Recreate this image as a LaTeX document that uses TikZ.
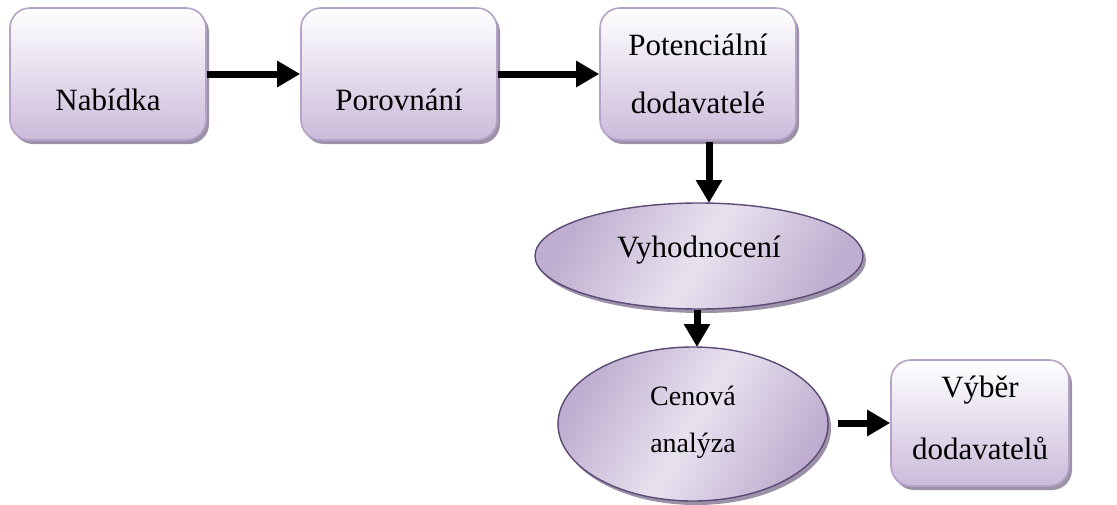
\documentclass[tikz,border=0pt]{standalone}
\usepackage{fontspec}
\setmainfont{Liberation Serif}
\usetikzlibrary{shadows,arrows.meta,shapes.geometric}
\definecolor{boxedge}{HTML}{B4A2C9}
\definecolor{boxbottom}{HTML}{CBBBDA}
\definecolor{ovaledge}{HTML}{5C4A78}
\definecolor{ovaldark}{HTML}{BFAECF}
\definecolor{ovallight}{HTML}{E8E2EF}
\definecolor{shadowgray}{HTML}{9C92A8}
\tikzset{
  stepbox/.style={rectangle, rounded corners=20pt, draw=boxedge, line width=1.6pt,
    top color=white, bottom color=boxbottom,
    drop shadow={shadow xshift=3pt, shadow yshift=-4pt, fill=shadowgray, opacity=1}},
  stepoval/.style={ellipse, draw=ovaledge, line width=1.4pt,
    left color=ovaldark, right color=ovaldark, middle color=ovallight, shading angle=60,
    inner sep=0pt,
    drop shadow={shadow xshift=3pt, shadow yshift=-4pt, fill=shadowgray, opacity=1}},
  boxtext/.style={font=\fontsize{31}{36}\selectfont},
  ovaltext/.style={font=\fontsize{28}{34}\selectfont},
  flow/.style={line width=7pt, -{Triangle[length=23pt,width=25pt]}}
}
\begin{document}
\begin{tikzpicture}[x=1pt,y=-1pt]
  \useasboundingbox (0,0) rectangle (1117,504);
  % top row of boxes
  \node[stepbox, minimum width=196pt, minimum height=132pt] (nab) at (108,74) {};
  \node[boxtext] (nabt) at (108,100) {Nabídka};
  \node[stepbox, minimum width=196pt, minimum height=132pt] (por) at (399,74) {};
  \node[boxtext] (port) at (399,100) {Porovnání};
  \node[stepbox, minimum width=196pt, minimum height=132pt] (pot) at (698,74) {};
  \node[boxtext] (pott1) at (698,45) {Potenciální};
  \node[boxtext] (pott2) at (698,103) {dodavatelé};
  % evaluation ovals
  \node[stepoval, minimum width=328pt, minimum height=106pt] (vyh) at (699,256) {};
  \node[boxtext] (vyht) at (699,250) {Vyhodnocení};
  \node[stepoval, minimum width=270pt, minimum height=154pt] (cen) at (693,424) {};
  \node[ovaltext] (cent1) at (693,396) {Cenová};
  \node[ovaltext] (cent2) at (693,446) {analýza};
  % final box
  \node[stepbox, minimum width=178pt, minimum height=126pt] (vyb) at (980,423) {};
  \node[boxtext] (vybt1) at (980,390) {Výběr};
  \node[boxtext] (vybt2) at (980,448) {dodavatelů};
  % connectors
  \coordinate (potout) at (709,142);
  \coordinate (vyhin) at (709,203);
  \coordinate (vyhout) at (697,310);
  \coordinate (cenin) at (697,347);
  \coordinate (cenout) at (838,423);
  \draw[flow] (nab.east) -- (por.west);
  \draw[flow] (por.east) -- (pot.west);
  \draw[flow] (potout) -- (vyhin);
  \draw[flow] (vyhout) -- (cenin);
  \draw[flow] (cenout) -- (vyb.west);
\end{tikzpicture}
\end{document}
